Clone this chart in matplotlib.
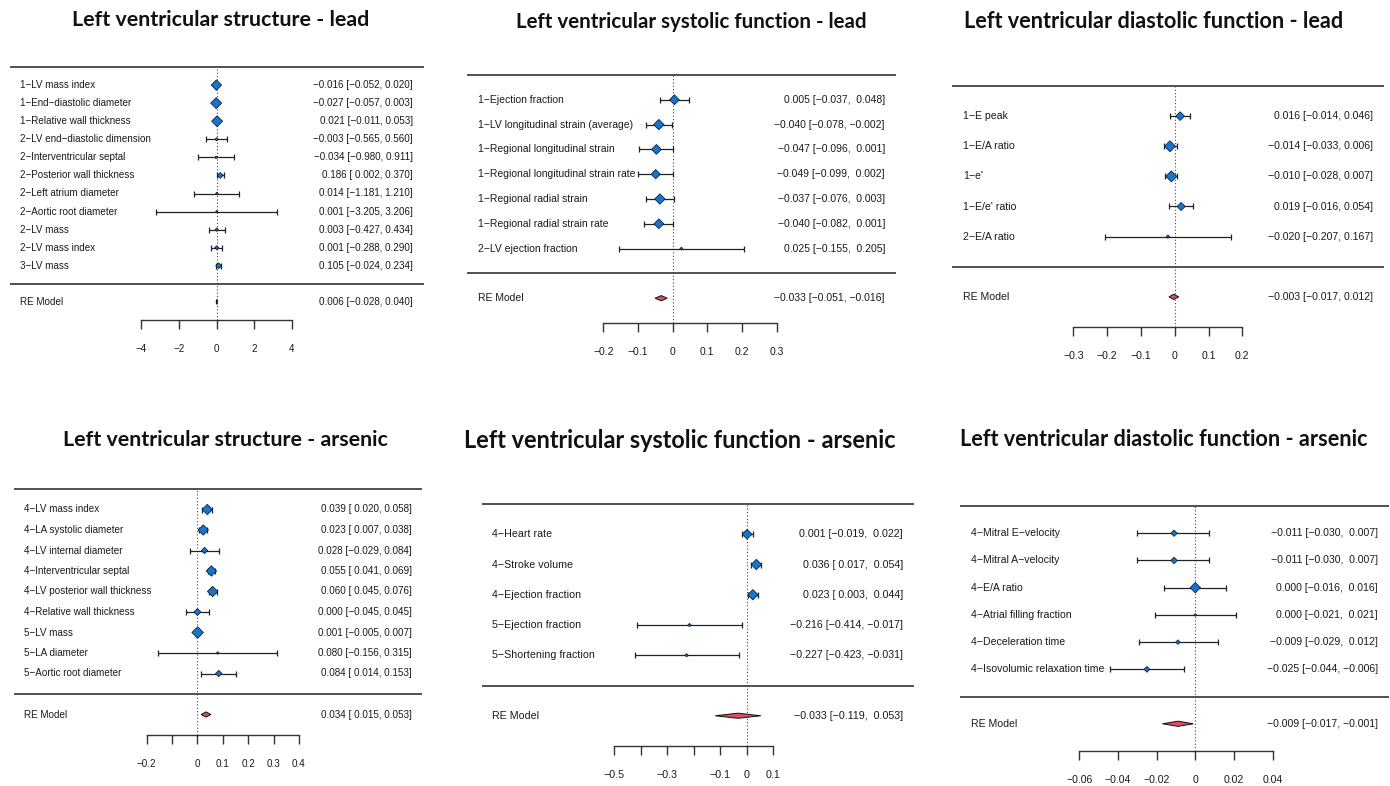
import matplotlib

matplotlib.use("Agg")
import matplotlib.pyplot as plt
import numpy as np

W, H = 1390, 786

# ---- Lead: LV structure
lead_struct_labels = ["1-LV mass index", "1-End-diastolic diameter", "1-Relative wall thickness",
                      "2-LV end-diastolic dimension", "2-Interventricular septal", "2-Posterior wall thickness",
                      "2-Left atrium diameter", "2-Aortic root diameter", "2-LV mass", "2-LV mass index", "3-LV mass"]
lead_struct_est = [-0.016, -0.027, 0.021, -0.003, -0.034, 0.186, 0.014, 0.001, 0.003, 0.001, 0.105]
lead_struct_lo = [-0.052, -0.057, -0.011, -0.565, -0.980, 0.002, -1.181, -3.205, -0.427, -0.288, -0.024]
lead_struct_hi = [0.020, 0.003, 0.053, 0.560, 0.911, 0.370, 1.210, 3.206, 0.434, 0.290, 0.234]
lead_struct_wt = [0.9, 0.95, 0.95, 0.28, 0.22, 0.5, 0.22, 0.18, 0.3, 0.35, 0.5]
lead_struct_re = [0.006, -0.028, 0.040]

# ---- Lead: LV systolic function
lead_sys_labels = ["1-Ejection fraction", "1-LV longitudinal strain (average)", "1-Regional longitudinal strain",
                   "1-Regional longitudinal strain rate", "1-Regional radial strain",
                   "1-Regional radial strain rate", "2-LV ejection fraction"]
lead_sys_est = [0.005, -0.040, -0.047, -0.049, -0.037, -0.040, 0.025]
lead_sys_lo = [-0.037, -0.078, -0.096, -0.099, -0.076, -0.082, -0.155]
lead_sys_hi = [0.048, -0.002, 0.001, 0.002, 0.003, 0.001, 0.205]
lead_sys_wt = [0.85, 0.9, 0.85, 0.8, 0.9, 0.85, 0.25]
lead_sys_re = [-0.033, -0.051, -0.016]

# ---- Lead: LV diastolic function
lead_dia_labels = ["1-E peak", "1-E/A ratio", "1-e'", "1-E/e' ratio", "2-E/A ratio"]
lead_dia_est = [0.016, -0.014, -0.010, 0.019, -0.020]
lead_dia_lo = [-0.014, -0.033, -0.028, -0.016, -0.207]
lead_dia_hi = [0.046, 0.006, 0.007, 0.054, 0.167]
lead_dia_wt = [0.75, 0.95, 0.95, 0.7, 0.3]
lead_dia_re = [-0.003, -0.017, 0.012]

# ---- Arsenic: LV structure
ars_struct_labels = ["4-LV mass index", "4-LA systolic diameter", "4-LV internal diameter",
                     "4-Interventricular septal", "4-LV posterior wall thickness", "4-Relative wall thickness",
                     "5-LV mass", "5-LA diameter", "5-Aortic root diameter"]
ars_struct_est = [0.039, 0.023, 0.028, 0.055, 0.060, 0.000, 0.001, 0.080, 0.084]
ars_struct_lo = [0.020, 0.007, -0.029, 0.041, 0.045, -0.045, -0.005, -0.156, 0.014]
ars_struct_hi = [0.058, 0.038, 0.084, 0.069, 0.076, 0.045, 0.007, 0.315, 0.153]
ars_struct_wt = [0.9, 0.9, 0.55, 0.9, 0.9, 0.6, 1.0, 0.22, 0.55]
ars_struct_re = [0.034, 0.015, 0.053]

# ---- Arsenic: LV systolic function
ars_sys_labels = ["4-Heart rate", "4-Stroke volume", "4-Ejection fraction", "5-Ejection fraction",
                  "5-Shortening fraction"]
ars_sys_est = [0.001, 0.036, 0.023, -0.216, -0.227]
ars_sys_lo = [-0.019, 0.017, 0.003, -0.414, -0.423]
ars_sys_hi = [0.022, 0.054, 0.044, -0.017, -0.031]
ars_sys_wt = [0.85, 0.9, 0.9, 0.28, 0.28]
ars_sys_re = [-0.033, -0.119, 0.053]

# ---- Arsenic: LV diastolic function
ars_dia_labels = ["4-Mitral E-velocity", "4-Mitral A-velocity", "4-E/A ratio", "4-Atrial filling fraction",
                  "4-Deceleration time", "4-Isovolumic relaxation time"]
ars_dia_est = [-0.011, -0.011, 0.000, 0.000, -0.009, -0.025]
ars_dia_lo = [-0.030, -0.030, -0.016, -0.021, -0.029, -0.044]
ars_dia_hi = [0.007, 0.007, 0.016, 0.021, 0.012, -0.006]
ars_dia_wt = [0.55, 0.55, 0.9, 0.22, 0.38, 0.5]
ars_dia_re = [-0.009, -0.017, -0.001]

titles = ["Left ventricular structure - lead", "Left ventricular systolic function - lead",
          "Left ventricular diastolic function - lead", "Left ventricular structure - arsenic",
          "Left ventricular systolic function - arsenic", "Left ventricular diastolic function - arsenic"]

ticks_1 = [-4, -2, 0, 2, 4]
ticks_2 = [-0.2, -0.1, 0, 0.1, 0.2, 0.3]
ticks_3 = [-0.3, -0.2, -0.1, 0, 0.1, 0.2]
ticks_4 = [-0.2, -0.1, 0, 0.1, 0.2, 0.3, 0.4]
ticks_5 = [-0.5, -0.4, -0.3, -0.2, -0.1, 0, 0.1]
ticks_6 = [-0.06, -0.04, -0.02, 0, 0.02, 0.04]
ticklabels_1 = ["-4", "-2", "0", "2", "4"]
ticklabels_2 = ["-0.2", "-0.1", "0", "0.1", "0.2", "0.3"]
ticklabels_3 = ["-0.3", "-0.2", "-0.1", "0", "0.1", "0.2"]
ticklabels_4 = ["-0.2", "", "0", "0.1", "0.2", "0.3", "0.4"]
ticklabels_5 = ["-0.5", "", "-0.3", "", "-0.1", "0", "0.1"]
ticklabels_6 = ["-0.06", "-0.04", "-0.02", "0", "0.02", "0.04"]

MINUS = "\u2212"
BLUE = "#1874CD"
RED = "#DC4E5E"
LINE = "#505050"
TXT = "#1a1a1a"

plt.rcParams.update({"font.family": ["Liberation Sans", "DejaVu Sans"]})
fig = plt.figure(figsize=(W / 100, H / 100), dpi=100)


def num(v):
    return f"{v:.3f}".replace("-", MINUS)


def pad(vals):
    s = [num(v) for v in vals]
    if any(v < 0 for v in vals):
        s = [x if x.startswith(MINUS) else " " + x for x in s]
    return s


def forest(box, zero_px, scale_px, lab_px, ann_px, fs, labels, est, lo, hi, wt, re, ticks, ticklabels):
    L, R, top, bot = box
    k = len(labels)
    row_px = (bot - top) / (k + 3)
    ax = fig.add_axes([L / W, 1 - bot / H, (R - L) / W, (bot - top) / H])
    ax.set_xlim((L - zero_px) / scale_px, (R - zero_px) / scale_px)
    ax.set_ylim(-2, k + 1)
    ax.patch.set_alpha(0)
    for side in ("top", "left", "right"):
        ax.spines[side].set_visible(False)
    ax.spines["bottom"].set_bounds(ticks[0], ticks[-1])
    ax.spines["bottom"].set_color("#333333")
    ax.spines["bottom"].set_linewidth(1.0)
    ax.set_yticks([])
    ax.set_xticks(ticks)
    ax.set_xticklabels([t.replace("-", MINUS) for t in ticklabels])
    ax.tick_params(axis="x", direction="out", length=6.5, width=1.0, color="#333333",
                   pad=11, labelsize=fs, labelcolor=TXT)

    ax.axhline(k + 1, color=LINE, lw=1.4, clip_on=False)
    ax.axhline(0, color=LINE, lw=1.4, clip_on=False)
    ax.vlines(0, -2, k + 1, colors="#444444", linestyles=(0, (1, 2)), lw=0.8)

    y = np.arange(k, 0, -1)
    est = np.array(est)
    ax.errorbar(est, y, xerr=[est - np.array(lo), np.array(hi) - est], fmt="none",
                ecolor="#222222", elinewidth=0.9, capsize=2.4, capthick=0.9, zorder=3)
    ms = 11.5 * np.array(wt) / 1.964
    ax.scatter(est, y, s=ms ** 2, marker="D", color=BLUE, edgecolors="#0b2440", linewidths=0.6, zorder=4)

    h = 2.6 / row_px
    ax.fill([re[1], re[0], re[2], re[0]], [-1, -1 + h, -1, -1 - h], facecolor=RED,
            edgecolor="#111111", lw=0.7, zorder=4)

    tr = ax.get_yaxis_transform()
    lab_x = (lab_px - L) / (R - L)
    ann_x = (ann_px - L) / (R - L)
    all_est = list(est) + [re[0]]
    all_lo = list(lo) + [re[1]]
    all_hi = list(hi) + [re[2]]
    e_s, l_s, h_s = [num(v) for v in all_est], pad(all_lo), pad(all_hi)
    anns = [f"{a} [{b}, {c}]" for a, b, c in zip(e_s, l_s, h_s)]
    for yi, lab, ann in zip(list(y) + [-1], labels + ["RE Model"], anns):
        ax.text(lab_x, yi, lab.replace("-", MINUS), transform=tr, ha="left", va="center",
                fontsize=fs, color=TXT)
        ax.text(ann_x, yi, ann, transform=tr, ha="right", va="center", fontsize=fs, color=TXT)
    return ax


forest((11, 423, 67, 320), 216.7, 18.83, 20, 413, 7.1, lead_struct_labels, lead_struct_est,
       lead_struct_lo, lead_struct_hi, lead_struct_wt, lead_struct_re, ticks_1, ticklabels_1)
forest((468, 895, 75, 323), 672.7, 346.7, 478, 885, 7.5, lead_sys_labels, lead_sys_est,
       lead_sys_lo, lead_sys_hi, lead_sys_wt, lead_sys_re, ticks_2, ticklabels_2)
forest((953, 1383, 86, 327), 1174.7, 338.0, 963, 1373, 7.6, lead_dia_labels, lead_dia_est,
       lead_dia_lo, lead_dia_hi, lead_dia_wt, lead_dia_re, ticks_3, ticklabels_3)
forest((15, 421, 489, 735), 197.4, 253.9, 24, 412, 7.15, ars_struct_labels, ars_struct_est,
       ars_struct_lo, ars_struct_hi, ars_struct_wt, ars_struct_re, ticks_4, ticklabels_4)
forest((483, 913, 504, 746), 746.8, 265.0, 492, 903, 7.65, ars_sys_labels, ars_sys_est,
       ars_sys_lo, ars_sys_hi, ars_sys_wt, ars_sys_re, ticks_5, ticklabels_5)
forest((961, 1388, 506, 751), 1195.3, 1933.3, 971, 1378, 7.55, ars_dia_labels, ars_dia_est,
       ars_dia_lo, ars_dia_hi, ars_dia_wt, ars_dia_re, ticks_6, ticklabels_6)

# titles: centre (px), target width (px)
title_pos = [(221, 20, 298), (691, 22, 353), (1154, 22, 378), (225, 440, 325), (680, 440, 434), (1164, 440, 408)]
renderer = fig.canvas.get_renderer()
for txt, (cx, cy, tw) in zip(titles, title_pos):
    t = fig.text(cx / W, 1 - cy / H, txt, ha="center", va="center", fontsize=15, fontweight="bold",
                 family=["Lato", "DejaVu Sans"], color="#111111")
    w = t.get_window_extent(renderer=renderer).width
    t.set_fontsize(15 * tw / w)

fig.savefig("out.png", dpi=100, facecolor="white")
